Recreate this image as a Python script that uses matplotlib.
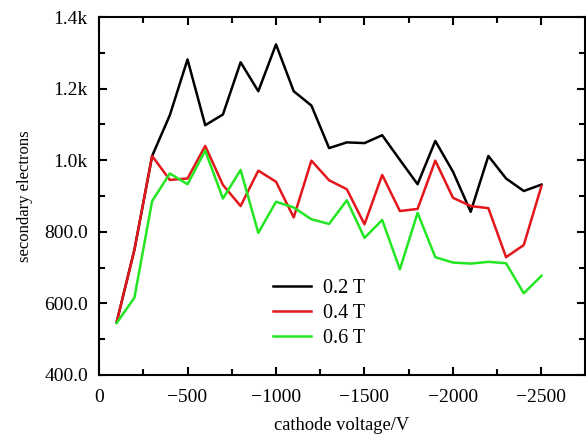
import matplotlib
matplotlib.use("Agg")
import matplotlib.pyplot as plt
from matplotlib.ticker import MultipleLocator, FixedLocator, FixedFormatter

# cathode voltage (V)
voltage = [-100, -200, -300, -400, -500, -600, -700, -800, -900, -1000,
           -1100, -1200, -1300, -1400, -1500, -1600, -1700, -1800, -1900,
           -2000, -2100, -2200, -2300, -2400, -2500]

# secondary electrons per field strength
b02 = [548, 750, 1012, 1126, 1282, 1098, 1128, 1274, 1193, 1324,
       1193, 1153, 1034, 1050, 1048, 1070, 1001, 933, 1054,
       968, 856, 1012, 949, 914, 932]
b04 = [548, 750, 1012, 945, 949, 1040, 931, 872, 971, 940,
       840, 999, 944, 919, 821, 959, 858, 864, 999,
       895, 872, 866, 729, 763, 928]
b06 = [545, 616, 886, 963, 933, 1027, 893, 973, 797, 884,
       868, 835, 822, 888, 783, 833, 695, 853, 729,
       714, 711, 716, 712, 628, 677]

series_labels = ["0.2 T", "0.4 T", "0.6 T"]
colors = ["black", "#e3161b", "#22e622"]

ytick_vals = [400, 600, 800, 1000, 1200, 1400]
ytick_labels = ["400.0", "600.0", "800.0", "1.0k", "1.2k", "1.4k"]
xtick_vals = [0, -500, -1000, -1500, -2000, -2500]
xtick_labels = ["0", "\u2212500", "\u22121000", "\u22121500", "\u22122000", "\u22122500"]

plt.rcParams["font.family"] = ["Liberation Serif", "DejaVu Serif"]

fig = plt.figure(figsize=(5.86, 4.41), dpi=100)
ax = fig.add_axes([0.169, 0.150, 0.829, 0.811])

for ys, lab, c in zip([b02, b04, b06], series_labels, colors):
    ax.plot(voltage, ys, color=c, lw=1.8, label=lab)

ax.set_xlim(0, -2745)
ax.set_ylim(400, 1400)

ax.xaxis.set_major_locator(FixedLocator(xtick_vals))
ax.xaxis.set_major_formatter(FixedFormatter(xtick_labels))
ax.xaxis.set_minor_locator(MultipleLocator(250))
ax.yaxis.set_major_locator(FixedLocator(ytick_vals))
ax.yaxis.set_major_formatter(FixedFormatter(ytick_labels))
ax.yaxis.set_minor_locator(MultipleLocator(100))

ax.tick_params(which="both", direction="in", top=True, right=True,
               width=1.5, labelsize=14)
ax.tick_params(axis="x", pad=10)
ax.tick_params(axis="y", pad=8)
ax.tick_params(which="major", length=6)
ax.tick_params(which="minor", length=4)
for sp in ax.spines.values():
    sp.set_linewidth(1.5)

ax.set_xlabel("cathode voltage/V", fontsize=13.3, labelpad=8)
ax.set_ylabel("secondary electrons", fontsize=12, labelpad=8)

ax.legend(loc="upper left", bbox_to_anchor=(0.32, 0.32), frameon=False,
          fontsize=14.5, handlelength=1.9, labelspacing=0.3, handletextpad=0.6)

fig.savefig("out.png", dpi=100)
